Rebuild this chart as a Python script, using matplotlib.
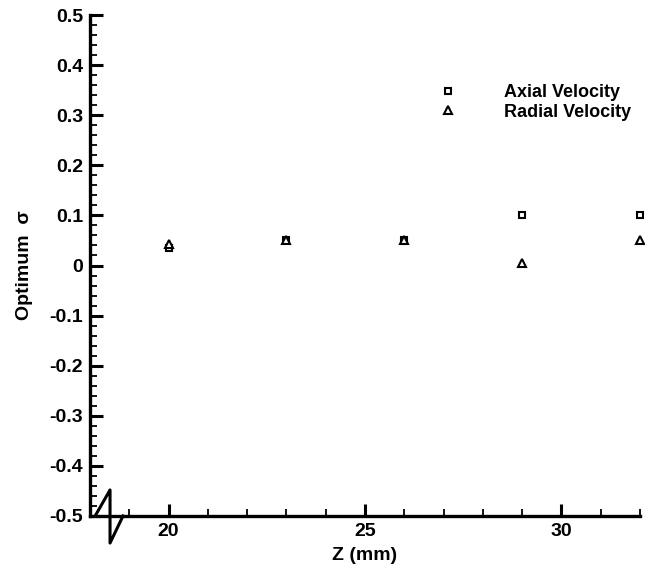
import matplotlib
matplotlib.use("Agg")
import matplotlib.pyplot as plt
from matplotlib.ticker import MultipleLocator

z = [20, 23, 26, 29, 32]
axial = [0.035, 0.05, 0.05, 0.10, 0.10]
radial = [0.042, 0.05, 0.05, 0.005, 0.05]
yticks = [-0.5, -0.4, -0.3, -0.2, -0.1, 0, 0.1, 0.2, 0.3, 0.4, 0.5]
ytick_labels = ["-0.5", "-0.4", "-0.3", "-0.2", "-0.1", "0", "0.1", "0.2", "0.3", "0.4", "0.5"]
xticks = [20, 25, 30]

plt.rcParams['font.family'] = ['Liberation Sans', 'DejaVu Sans']
plt.rcParams['font.weight'] = 'bold'

fig = plt.figure(figsize=(6.45, 5.71), dpi=100)
ax = fig.add_axes([90/645, 1-516/571, 550/645, (516-15)/571])

ax.plot(z, axial, linestyle='none', marker='s', markersize=5, markerfacecolor='white',
        markeredgecolor='black', markeredgewidth=1.5, label='Axial Velocity', clip_on=False, zorder=3)
ax.plot(z, radial, linestyle='none', marker='^', markersize=5.5, markerfacecolor='white',
        markeredgecolor='black', markeredgewidth=1.5, label='Radial Velocity', clip_on=False, zorder=3)

ax.set_xlim(18, 32)
ax.set_ylim(-0.5, 0.5)
ax.set_yticks(yticks)
ax.set_yticklabels(ytick_labels)
ax.set_xticks(xticks)
ax.xaxis.set_minor_locator(MultipleLocator(1))
ax.yaxis.set_minor_locator(MultipleLocator(0.02))

for s in ['top', 'right']:
    ax.spines[s].set_visible(False)
for s in ['left', 'bottom']:
    ax.spines[s].set_linewidth(2.4)

ax.tick_params(which='major', direction='in', length=9, width=2.2, labelsize=14, pad=5)
ax.tick_params(which='minor', direction='in', length=5, width=1.3)
for lbl in ax.get_xticklabels() + ax.get_yticklabels():
    lbl.set_fontweight('bold')

# axis break symbol
ax.plot([18.13, 18.51, 18.51, 18.84], [-0.5, -0.448, -0.554, -0.5], color='black',
        linewidth=2.2, clip_on=False, zorder=4)

ax.set_xlabel('Z (mm)', fontsize=14, fontweight='bold', labelpad=5)
ax.set_ylabel('Optimum  σ', fontsize=14, fontweight='bold', labelpad=12)

leg = ax.legend(loc='upper left', bbox_to_anchor=(0.605, 0.895), frameon=False,
                handlelength=1.0, handletextpad=2.6, labelspacing=0.15,
                prop={'weight': 'bold', 'size': 13})

fig.savefig('out.png', dpi=100)
